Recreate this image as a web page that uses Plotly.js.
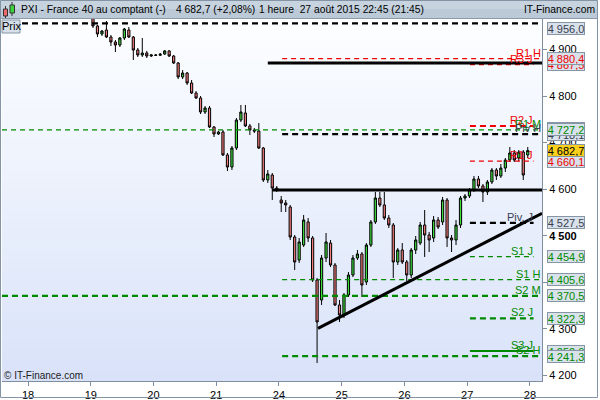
<!DOCTYPE html>
<html>
<head>
<meta charset="utf-8">
<script src="https://cdn.plot.ly/plotly-3.0.1.min.js"></script>
<style>
  html, body { margin: 0; padding: 0; background: #fff; }
  #chart { width: 600px; height: 400px; }
</style>
</head>
<body>
<div id="chart"></div>
<script>
// PXI - CAC 40, bougies 1 heure (8:00 .. 21:00, 14 par jour)
var days = ['18', '19', '20', '21', '24', '25', '26', '27', '28'];
var candlesPerDay = 14;
var firstCandle = 14;   // 19 août, 8:00

// one row per day: 19, 20, 21, 24, 25, 26, 27
var opens = [
  4967.5, 4950.4, 4933.2, 4941.8, 4926.7, 4916.0, 4909.5, 4924.6, 4941.8, 4926.7, 4898.8, 4888.1, 4892.4, 4885.9,
  4888.1, 4887.5, 4890.2, 4896.7, 4885.9, 4870.9, 4840.8, 4849.4, 4827.9, 4806.4, 4795.7, 4765.6, 4774.2, 4733.4,
  4718.4, 4722.7, 4673.3, 4647.5, 4688.3, 4748.4, 4763.5, 4735.6, 4727.0, 4724.8, 4688.3, 4619.6, 4630.3, 4602.4,
  4576.6, 4570.2, 4561.6, 4497.1, 4447.7, 4479.9, 4529.4, 4495.0, 4404.8, 4361.8, 4452.0, 4484.2, 4437.0, 4351.1,
  4329.6, 4372.5, 4415.5, 4452.0, 4460.6, 4400.5, 4479.9, 4529.4, 4580.9, 4565.9, 4537.9, 4522.9, 4443.4, 4469.2,
  4443.4, 4415.5, 4469.2, 4484.2, 4522.9, 4501.4, 4495.0, 4533.7, 4529.4, 4576.6, 4495.0, 4490.7, 4522.9, 4580.9,
  4585.2, 4598.1, 4621.7, 4606.7, 4593.8, 4615.3, 4641.0, 4628.2, 4645.3, 4662.5, 4677.6, 4666.8, 4679.7, 4673.3
];
var highs = [
  4984.7, 4952.5, 4941.8, 4961.1, 4931.0, 4920.3, 4926.7, 4946.1, 4948.2, 4928.9, 4903.1, 4924.6, 4896.7, 4890.2,
  4890.2, 4892.4, 4898.8, 4898.8, 4888.1, 4873.0, 4855.8, 4851.5, 4834.4, 4810.7, 4800.0, 4778.5, 4778.5, 4735.6,
  4724.8, 4727.0, 4677.6, 4692.6, 4752.7, 4780.7, 4780.7, 4739.9, 4731.3, 4742.0, 4690.5, 4641.0, 4634.6, 4606.7,
  4585.2, 4576.6, 4565.9, 4501.4, 4495.0, 4544.4, 4537.9, 4499.3, 4409.1, 4458.5, 4505.7, 4490.7, 4441.3, 4361.8,
  4376.8, 4421.9, 4458.5, 4469.2, 4464.9, 4484.2, 4533.7, 4593.8, 4593.8, 4593.8, 4544.4, 4527.2, 4473.5, 4484.2,
  4447.7, 4473.5, 4499.3, 4529.4, 4555.1, 4507.9, 4542.2, 4540.1, 4583.1, 4580.9, 4501.4, 4533.7, 4585.2, 4589.5,
  4602.4, 4628.2, 4628.2, 4611.0, 4619.6, 4645.3, 4645.3, 4653.9, 4666.8, 4690.5, 4684.0, 4684.0, 4684.0, 4690.5
];
var lows = [
  4946.1, 4926.7, 4928.9, 4924.6, 4907.4, 4894.5, 4905.2, 4920.3, 4924.6, 4877.3, 4883.8, 4883.8, 4881.6, 4883.8,
  4885.9, 4885.9, 4888.1, 4883.8, 4868.7, 4836.5, 4836.5, 4823.7, 4804.3, 4793.6, 4761.3, 4761.3, 4731.3, 4711.9,
  4716.2, 4671.1, 4638.9, 4641.0, 4684.0, 4744.1, 4733.4, 4716.2, 4720.5, 4686.1, 4615.3, 4613.1, 4576.6, 4593.8,
  4550.8, 4550.8, 4490.7, 4426.2, 4441.3, 4475.7, 4486.4, 4400.5, 4226.5, 4351.1, 4443.4, 4432.7, 4348.9, 4314.6,
  4323.1, 4368.3, 4411.2, 4447.7, 4368.3, 4394.0, 4475.7, 4525.1, 4561.6, 4533.7, 4516.5, 4409.1, 4437.0, 4439.1,
  4402.6, 4409.1, 4460.6, 4479.9, 4454.2, 4464.9, 4486.4, 4514.3, 4522.9, 4475.7, 4464.9, 4479.9, 4516.5, 4574.5,
  4580.9, 4593.8, 4602.4, 4572.3, 4587.3, 4611.0, 4619.6, 4623.9, 4636.8, 4658.2, 4658.2, 4660.3, 4619.6, 4666.8
];
var closes = [
  4950.4, 4933.2, 4939.6, 4926.7, 4916.0, 4909.5, 4924.6, 4943.9, 4926.7, 4898.8, 4888.1, 4892.4, 4885.9, 4888.1,
  4887.5, 4889.8, 4896.7, 4885.9, 4870.9, 4840.8, 4849.4, 4827.9, 4806.4, 4795.7, 4765.6, 4774.2, 4733.4, 4718.4,
  4722.7, 4673.3, 4647.5, 4688.3, 4748.4, 4765.6, 4735.6, 4727.0, 4724.8, 4688.3, 4619.6, 4632.5, 4602.4, 4598.1,
  4570.2, 4565.9, 4497.1, 4443.4, 4486.4, 4533.7, 4495.0, 4404.8, 4314.6, 4452.0, 4486.4, 4437.0, 4351.1, 4329.6,
  4372.5, 4415.5, 4452.0, 4460.6, 4394.0, 4479.9, 4529.4, 4580.9, 4565.9, 4537.9, 4522.9, 4443.4, 4469.2, 4443.4,
  4415.5, 4469.2, 4490.7, 4522.9, 4501.4, 4490.7, 4533.7, 4518.6, 4576.6, 4495.0, 4490.7, 4522.9, 4580.9, 4585.2,
  4598.1, 4621.7, 4606.7, 4593.8, 4615.3, 4641.0, 4628.2, 4645.3, 4662.5, 4677.6, 4662.5, 4679.7, 4630.3, 4682.7
];

// pivots / supports / résistances (J = jour, H = semaine, M = mois)
var levelNames  = ['Piv M', 'R1 H', 'R3 J', 'R2 J', 'R1 M', 'Piv H', 'R1 J', 'Piv. J', 'S1 J', 'S1 H', 'S2 M', 'S2 J', 'S3 J', 'S2 H'];
var levelValues = [4956.0, 4880.4, 4867.5, 4735.6, 4727.2, 4718.1, 4660.1, 4527.5, 4454.9, 4405.6, 4370.5, 4322.3, 4252.0, 4241.3];

var lastPrice = 4682.7;
var lastChange = '+2,08%';

// lignes tracées à la main (index de bougie, prix)
var trendX0 = [53, 54, 64.2];
var trendY0 = [4871, 4598, 4301];
var trendX1 = [114.2, 114.2, 114.2];
var trendY1 = [4871, 4598, 4548];

var yTicks = [4200, 4300, 4400, 4500, 4600, 4700, 4800, 4900];
var boldTick = 4500;

// ---------------------------------------------------------------
var FONT = 'Liberation Sans, Arial, sans-serif';
var W = 600, H = 400, ML = 2, MR = 58, MT = 19, MB = 19;
var plotW = W - ML - MR, plotH = H - MT - MB;
var xRange = [-6.3, 114.18];
var yRange = [4187.8, 4965.4];

function px(x) { return (x - ML) / plotW; }
function py(y) { return (H - MB - y) / plotH; }
function fromTop(v) { return (yRange[1] - v) / (yRange[1] - yRange[0]) * plotH; }

function fr(v, dec) {
	var s = v.toFixed(dec).replace('.', ',');
	return s.replace(/^(\d)(\d{3})/, '$1 $2');
}

var xs = opens.map(function (_, i) { return firstCandle + i; });

var candles = {
	type: 'candlestick',
	x: xs, open: opens, high: highs, low: lows, close: closes,
	increasing: {line: {color: '#000', width: 1}, fillcolor: '#3ddc3d'},
	decreasing: {line: {color: '#000', width: 1}, fillcolor: '#f27b7b'},
	whiskerwidth: 0,
	hoverinfo: 'none',
	showlegend: false
};

var weekStart = days.indexOf('24') * candlesPerDay;
var dayStart = days.indexOf('27') * candlesPerDay;
var dayEnd = 112.3;

function period(name) { return name.charAt(name.length - 1); }
function baseColor(name) {
	var c = name.charAt(0);
	if (c === 'P') return '#000000';
	if (c === 'S' || period(name) === 'M') return '#008a00';
	return '#f00000';
}
function textColor(name) {
	return name.charAt(0) === 'P' ? '#3a4050' : baseColor(name);
}
var thickLevels = ['Piv M', 'Piv H', 'Piv. J', 'R2 J', 'S2 M', 'S2 J', 'S2 H'];

var shapes = [];
var annotations = [];

// fond dégradé
var bands = 36;
for (var i = 0; i < bands; i++) {
	var t = (i + 0.5) / bands;
	var r = Math.round(253 + (216 - 253) * t);
	var g = Math.round(254 + (226 - 254) * t);
	var b = Math.round(255 + (249 - 255) * t);
	shapes.push({
		type: 'rect', xref: 'paper', yref: 'paper', layer: 'below',
		x0: 0, x1: 1, y0: 1 - (i + 1) / bands - 0.002, y1: 1 - i / bands,
		fillcolor: 'rgb(' + r + ',' + g + ',' + b + ')', line: {width: 0}
	});
}

// niveaux
levelNames.forEach(function (name, i) {
	var v = levelValues[i];
	var p = period(name);
	var thick = thickLevels.indexOf(name) >= 0;
	var line = {
		color: baseColor(name),
		width: name === 'S3 J' ? 2 : (thick ? 2.2 : 1.3),
		dash: name === 'S3 J' ? 'solid' : (thick ? '6px,4px' : '5px,4px')
	};
	if (p === 'M') {
		shapes.push({type: 'line', xref: 'paper', yref: 'y', x0: 0, x1: 1, y0: v, y1: v, line: line});
	} else {
		shapes.push({type: 'line', xref: 'x', yref: 'y',
			x0: p === 'H' ? weekStart + 0.2 : dayStart + 0.1,
			x1: p === 'H' ? xRange[1] : dayEnd,
			y0: v, y1: v, line: line});
	}
	if (fromTop(v) > 14) {
		annotations.push({
			xref: p === 'J' ? 'x' : 'paper', yref: 'y',
			x: p === 'J' ? dayEnd : px(541.5), y: v,
			xanchor: 'right', yanchor: 'bottom', yshift: -1,
			text: name, showarrow: false, borderpad: 0,
			font: {family: FONT, size: 11, color: textColor(name)}
		});
	}
});

// lignes manuelles
trendX0.forEach(function (x0, i) {
	shapes.push({type: 'line', xref: 'x', yref: 'y',
		x0: x0, y0: trendY0[i], x1: trendX1[i], y1: trendY1[i],
		line: {color: '#000', width: 3}});
});

// étiquettes de prix à droite : J sous H sous M, une étiquette presque
// recouverte par celle du dessus se cache dessous
var rank = {J: 0, H: 1, M: 2};
function valueBox(v, color, bg, shift) {
	var top = fromTop(v);
	return {
		xref: 'paper', yref: 'y', x: 1, y: v, xanchor: 'left', yanchor: 'middle',
		xshift: 5, yshift: (top < 9.5 ? -(9.5 - top) : 0) + shift,
		text: fr(v, 1), showarrow: false,
		width: 36, height: 11, borderpad: 0, borderwidth: 1,
		bordercolor: '#8796a5', bgcolor: bg,
		font: {family: FONT, size: 11, color: color}
	};
}
['J', 'H', 'M'].forEach(function (p) {
	levelNames.forEach(function (name, i) {
		if (period(name) !== p) return;
		var shift = 0;
		levelNames.forEach(function (other, j) {
			var dy = fromTop(levelValues[j]) - fromTop(levelValues[i]);
			if (rank[period(other)] > rank[p] && dy > 0 && dy < 4.5) shift = -(dy - 1);
		});
		annotations.push(valueBox(levelValues[i], textColor(name), '#d9e2eb', shift));
	});
});
annotations.push(valueBox(lastPrice, '#000', '#fccf1a', 0));

// en-tête
shapes.push({type: 'rect', xref: 'paper', yref: 'paper', x0: px(0), x1: px(598), y0: py(18.5), y1: py(0),
	fillcolor: '#bccad7', line: {width: 0}});
shapes.push({type: 'rect', xref: 'paper', yref: 'paper', x0: px(0), x1: px(598), y0: py(9), y1: py(0),
	fillcolor: '#c7d4df', line: {width: 0}});
shapes.push({type: 'line', xref: 'paper', yref: 'paper', x0: px(0), x1: px(598), y0: py(18.5), y1: py(18.5),
	line: {color: '#8a9aaa', width: 1}});
// icône bougies
shapes.push({type: 'line', xref: 'paper', yref: 'paper', x0: px(5.5), x1: px(5.5), y0: py(18), y1: py(6), line: {color: '#333', width: 1}});
shapes.push({type: 'rect', xref: 'paper', yref: 'paper', x0: px(3.5), x1: px(7.5), y0: py(16), y1: py(9), fillcolor: '#f06a6a', line: {color: '#333', width: 1}});
shapes.push({type: 'line', xref: 'paper', yref: 'paper', x0: px(12), x1: px(12), y0: py(16), y1: py(2), line: {color: '#333', width: 1}});
shapes.push({type: 'rect', xref: 'paper', yref: 'paper', x0: px(10), x1: px(14.5), y0: py(13), y1: py(5), fillcolor: '#3cd43c', line: {color: '#333', width: 1}});
// bouton Prix
shapes.push({type: 'rect', xref: 'paper', yref: 'paper', x0: px(2), x1: px(20), y0: py(33), y1: py(20),
	fillcolor: '#d6e0ea', line: {color: '#8796a5', width: 1}});
// cadre
shapes.push({type: 'rect', xref: 'paper', yref: 'paper', x0: px(0.5), x1: px(597.5), y0: py(397.5), y1: py(0.5),
	line: {color: '#8494a4', width: 1}});

function headerText(x, text, anchor) {
	annotations.push({xref: 'paper', yref: 'paper', x: px(x), y: py(9.5), xanchor: anchor, yanchor: 'middle',
		text: text, showarrow: false, borderpad: 0, font: {family: FONT, size: 10.3, color: '#000'}});
}
headerText(20, 'PXI - France 40 au comptant (-)', 'left');
headerText(175, fr(lastPrice, 1) + ' (' + lastChange + ')', 'left');
headerText(258, '1 heure&nbsp;&nbsp;27 août 2015 22:45 (21:45)', 'left');
headerText(596, 'IT-Finance.com', 'right');

annotations.push({xref: 'paper', yref: 'paper', x: px(11), y: py(26.5), xanchor: 'center', yanchor: 'middle',
	text: 'Prix', showarrow: false, borderpad: 0, font: {family: FONT, size: 11, color: '#000'}});
annotations.push({xref: 'paper', yref: 'paper', x: px(3), y: py(375), xanchor: 'left', yanchor: 'middle',
	text: '© IT-Finance.com', showarrow: false, borderpad: 0, font: {family: FONT, size: 10, color: '#222'}});

var layout = {
	width: W, height: H,
	margin: {l: ML, r: MR, t: MT, b: MB, pad: 0},
	paper_bgcolor: '#ffffff',
	plot_bgcolor: '#ffffff',
	font: {family: FONT, size: 11, color: '#000'},
	showlegend: false,
	hovermode: false,
	xaxis: {
		type: 'linear', range: xRange, fixedrange: true,
		rangeslider: {visible: false},
		tickmode: 'array',
		tickvals: days.map(function (_, i) { return i * candlesPerDay - 0.5; }),
		ticktext: days,
		ticks: 'outside', ticklen: 4, tickcolor: '#7f8f9f',
		showline: true, linecolor: '#7f8f9f', linewidth: 1,
		showgrid: false, zeroline: false,
		tickfont: {family: FONT, size: 11, color: '#000'}
	},
	yaxis: {
		side: 'right', range: yRange, fixedrange: true,
		tickmode: 'array',
		tickvals: yTicks,
		ticktext: yTicks.map(function (v) {
			var s = fr(v, 0);
			return v === boldTick ? '<b>' + s + '</b>' : s;
		}),
		ticks: 'outside', ticklen: 4, tickcolor: '#7f8f9f',
		showline: true, linecolor: '#7f8f9f', linewidth: 1,
		showgrid: false, zeroline: false,
		tickfont: {family: FONT, size: 11, color: '#000'}
	},
	shapes: shapes,
	annotations: annotations
};

Plotly.newPlot('chart', [candles], layout, {staticPlot: true, displayModeBar: false});
</script>
</body>
</html>
